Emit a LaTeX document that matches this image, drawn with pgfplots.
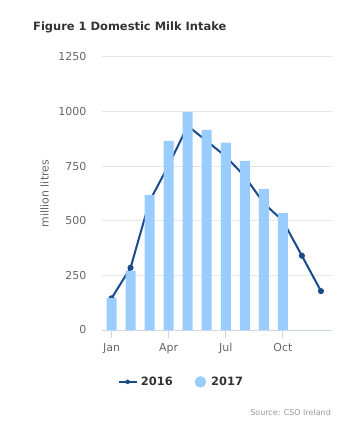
\documentclass[border=0pt]{standalone}
\usepackage{fontspec}
\setmainfont{DejaVu Sans}
\usepackage{pgfplots}
\pgfplotsset{compat=1.18}
\definecolor{barblue}{RGB}{153,204,255}
\definecolor{lineblue}{RGB}{24,74,140}
\definecolor{gridgray}{RGB}{230,230,230}
\definecolor{axisgray}{RGB}{204,214,235}
\definecolor{labelgray}{RGB}{102,102,102}
\definecolor{titlegray}{RGB}{51,51,51}
\definecolor{srcgray}{RGB}{153,153,153}
\pgfplotsset{frame/.style={
  at={(102bp,93bp)}, anchor=south west,
  scale only axis, width=230bp, height=273bp,
  xmin=-0.5, xmax=11.58, ymin=0, ymax=1250}}
\begin{document}
\begin{tikzpicture}
\path[use as bounding box] (0,0) rectangle (348bp,423bp);
\node[anchor=west, font=\fontsize{11.5}{13}\selectfont\bfseries, text=titlegray, inner sep=0pt] at (33bp,396bp) {Figure 1 Domestic Milk Intake};
\begin{axis}[
  frame,
  axis x line*=bottom, axis y line*=left,
  x axis line style={draw=axisgray, line width=1bp, -},
  y axis line style={draw=none},
  xtick={0,3,6,9}, xticklabels={Jan,Apr,Jul,Oct},
  ytick={0,250,...,1250},
  tick align=outside,
  major tick length=8bp,
  xtick style={draw=axisgray, line width=1bp},
  ytick style={draw=none},
  ymajorgrids, grid style={draw=gridgray, line width=1bp},
  tick label style={font=\fontsize{11}{13}\selectfont, text=labelgray},
  /pgf/number format/assume math mode=true,
  /pgf/number format/1000 sep={},
  yticklabel style={inner sep=0pt, anchor=east, xshift=-7.5bp},
  xticklabel style={inner sep=0pt, anchor=base, yshift=-13bp},
  ylabel={million litres},
  ylabel style={font=\fontsize{11}{13}\selectfont, text=labelgray, at={(axis description cs:-0.25,0.5)}, anchor=center},
  legend columns=2,
  legend cell align=left,
  legend style={at={(0.345,-0.19)}, anchor=center, draw=none, fill=none,
    font=\fontsize{11.5}{13}\selectfont\bfseries, text=titlegray,
    /tikz/every even column/.append style={column sep=20bp}},
]
\addlegendimage{legend image code/.code={\draw[lineblue, line width=2bp] (0bp,0bp) -- (18bp,0bp); \fill[lineblue] (9bp,0bp) circle (2bp); \path (20bp,0bp);}}
\addlegendentry{2016}
\addlegendimage{legend image code/.code={\fill[barblue] (5.5bp,0bp) circle (5.5bp); \path (14bp,0bp);}}
\addlegendentry{2017}
\addplot[forget plot, lineblue, line width=2bp, mark=*, mark size=2bp]
  coordinates {(0,145)(1,285)(2,590)(3,755)(4,935)(5,865)(6,795)(7,703)(8,580)(9,500)(10,340)(11,178)};
\end{axis}
\begin{axis}[frame, hide axis]
\addplot[ybar, bar shift=0pt, bar width=10bp, fill=barblue, draw=none]
  coordinates {(0,147)(1,271)(2,618)(3,866)(4,998)(5,916)(6,858)(7,774)(8,645)(9,535)};
\end{axis}
\node[anchor=east, font=\fontsize{8}{10}\selectfont, text=srcgray, inner sep=0pt] at (331bp,10bp) {Source: CSO Ireland};
\end{tikzpicture}
\end{document}
